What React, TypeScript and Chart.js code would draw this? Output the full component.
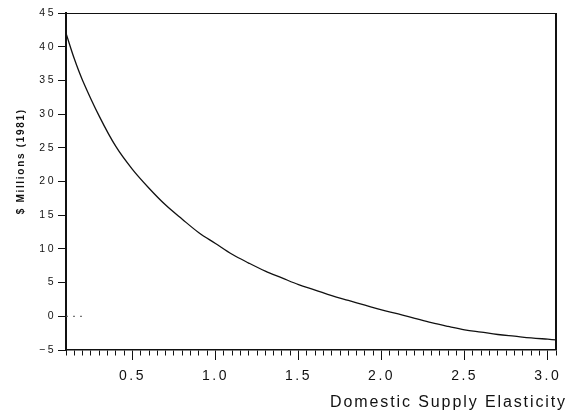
import React, { useEffect, useRef } from 'react';
import { Chart, registerables } from 'chart.js';

Chart.register(...registerables);

// Domestic supply elasticity (x) and net value in $ millions 1981 (y)
const elasticity = [0.1, 0.15, 0.2, 0.3, 0.4, 0.5, 0.6, 0.7, 0.8, 0.9, 1.0, 1.1, 1.2, 1.3, 1.4, 1.5, 1.6, 1.7, 1.8, 1.9, 2.0, 2.1, 2.2, 2.3, 2.4, 2.5, 2.6, 2.7, 2.8, 2.9, 3.0, 3.05];
const millions = [42.0, 38.2, 35.0, 29.7, 25.2, 21.8, 19.0, 16.5, 14.4, 12.4, 10.8, 9.2, 7.9, 6.7, 5.7, 4.7, 3.9, 3.05, 2.35, 1.65, 0.95, 0.36, -0.3, -0.95, -1.5, -2.0, -2.35, -2.7, -2.95, -3.2, -3.4, -3.5];

// short dotted mark at zero near the left axis
const zeroMarkX = [0.1, 0.2];
const zeroMarkY = [0, 0];

// axes
const xMin = 0.1;
const xMax = 3.05;
const xMinorStep = 0.05;
const xLabeledTicks = [0.5, 1.0, 1.5, 2.0, 2.5, 3.0];
const yMin = -5;
const yMax = 45;
const yStep = 5;

const xTitle = 'Domestic Supply Elasticity';
const yTitle = '$ Millions (1981)';

const INK = '#111111';
const FONT = "'Liberation Sans', Arial, sans-serif";

const isLabeled = (v: number) => xLabeledTicks.some((t) => Math.abs(t - v) < 1e-6);

export default function App() {
  const canvasRef = useRef<HTMLCanvasElement | null>(null);

  useEffect(() => {
    const canvas = canvasRef.current;
    if (!canvas) return;

    const framePlugin = {
      id: 'frameAndTitles',
      beforeDraw(chart: any) {
        chart.ctx.letterSpacing = '2.5px';
      },
      beforeDatasetsDraw(chart: any) {
        chart.ctx.letterSpacing = '0px';
      },
      afterDraw(chart: any) {
        const { ctx, chartArea } = chart;
        ctx.save();
        ctx.strokeStyle = INK;
        // top border
        ctx.lineWidth = 1.2;
        ctx.beginPath();
        ctx.moveTo(chartArea.left, Math.round(chartArea.top) + 0.5);
        ctx.lineTo(chartArea.right, Math.round(chartArea.top) + 0.5);
        ctx.stroke();
        // right border
        ctx.lineWidth = 2;
        ctx.beginPath();
        ctx.moveTo(Math.round(chartArea.right), chartArea.top);
        ctx.lineTo(Math.round(chartArea.right), chartArea.bottom);
        ctx.stroke();

        // x title
        ctx.fillStyle = INK;
        ctx.font = `16px ${FONT}`;
        ctx.letterSpacing = '1.9px';
        ctx.textAlign = 'right';
        ctx.textBaseline = 'alphabetic';
        ctx.fillText(xTitle, chartArea.right + 11, chartArea.bottom + 57);

        // y title
        ctx.font = `bold 10px ${FONT}`;
        ctx.letterSpacing = '1.7px';
        ctx.translate(21, chartArea.top + (chartArea.bottom - chartArea.top) * 0.44);
        ctx.rotate(-Math.PI / 2);
        ctx.textAlign = 'center';
        ctx.textBaseline = 'middle';
        ctx.fillText(yTitle, 0, 0);
        ctx.restore();
        ctx.letterSpacing = '0px';
      },
    };

    const chart = new Chart(canvas, {
      type: 'line',
      data: {
        datasets: [
          {
            data: elasticity.map((x, i) => ({ x, y: millions[i] })),
            borderColor: INK,
            borderWidth: 1.3,
            pointRadius: 0,
            tension: 0.35,
            fill: false,
          },
          {
            data: zeroMarkX.map((x, i) => ({ x, y: zeroMarkY[i] })),
            borderColor: '#555555',
            borderWidth: 1,
            borderDash: [2, 5],
            pointRadius: 0,
            fill: false,
          },
        ],
      },
      options: {
        animation: false,
        responsive: false,
        maintainAspectRatio: false,
        layout: { padding: { top: 13, right: 12, left: 0, bottom: 0 } },
        plugins: {
          legend: { display: false },
          tooltip: { enabled: false },
          title: { display: false },
        },
        scales: {
          x: {
            type: 'linear',
            min: xMin,
            max: xMax,
            ticks: {
              stepSize: xMinorStep,
              maxTicksLimit: 1000,
              autoSkip: false,
              maxRotation: 0,
              minRotation: 0,
              color: INK,
              padding: 8,
              font: { family: FONT, size: 14 },
              callback: (v: any) => (isLabeled(Number(v)) ? Number(v).toFixed(1) : ''),
            },
            grid: {
              display: true,
              drawOnChartArea: false,
              drawTicks: true,
              tickLength: 10,
              tickColor: INK,
              tickWidth: 1,
              tickBorderDash: (ctx: any) => (ctx.tick && isLabeled(ctx.tick.value) ? [] : [5, 30]),
            },
            border: { display: true, color: INK, width: 1.5 },
            afterFit: (scale: any) => {
              scale.height = 65;
            },
          },
          y: {
            type: 'linear',
            min: yMin,
            max: yMax,
            ticks: {
              stepSize: yStep,
              color: INK,
              padding: 2,
              font: { family: FONT, size: 10.5 },
              callback: (v: any) => String(v).replace('-', '\u2212'),
            },
            grid: {
              display: true,
              drawOnChartArea: false,
              drawTicks: true,
              tickLength: 8,
              tickColor: INK,
              tickWidth: 1,
            },
            border: { display: true, color: INK, width: 2 },
            afterFit: (scale: any) => {
              scale.width = 66;
            },
          },
        },
      },
      plugins: [framePlugin],
    } as any);

    return () => {
      chart.destroy();
    };
  }, []);

  return (
    <div style={{ position: 'absolute', left: 0, top: 0, width: 568, height: 415, background: '#ffffff' }}>
      <canvas ref={canvasRef} width={568} height={415} style={{ display: 'block' }} />
    </div>
  );
}
